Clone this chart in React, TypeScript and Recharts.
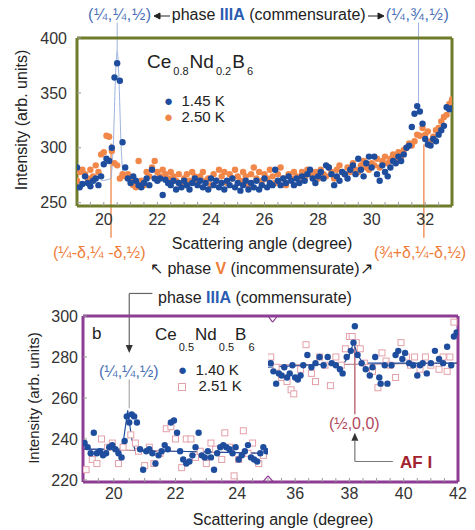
import { ComposedChart, Scatter, Line, XAxis, YAxis, ReferenceLine, ReferenceDot } from 'recharts'

const FONT = '"Liberation Sans", Arial, sans-serif'
const OLIVE = '#6e7c2b'
const PURPLE = '#8d3d93'
const BLUE = '#1f4d9e'
const ORANGE = '#f2874a'
const PINK = '#e4a0a8'
const FIT_BLUE = '#9db3de'
const LABEL_BLUE = '#4a70b6'
const LABEL_ORANGE = '#ee7d3a'
const LABEL_RED = '#b04a5c'
const TICK_TEXT = '#333'

// ---- panel a: Ce0.8Nd0.2B6 ----
const anglesA = [
  19.0, 19.1, 19.2, 19.3, 19.4, 19.5, 19.6, 19.7, 19.8, 19.9,
  20.0, 20.1, 20.2, 20.3, 20.4, 20.5, 20.6, 20.7, 20.8, 20.9,
  21.0, 21.1, 21.2, 21.3, 21.4, 21.5, 21.6, 21.7, 21.8, 21.9,
  22.0, 22.1, 22.2, 22.3, 22.4, 22.5, 22.6, 22.7, 22.8, 22.9,
  23.0, 23.1, 23.2, 23.3, 23.4, 23.5, 23.6, 23.7, 23.8, 23.9,
  24.0, 24.1, 24.2, 24.3, 24.4, 24.5, 24.6, 24.7, 24.8, 24.9,
  25.0, 25.1, 25.2, 25.3, 25.4, 25.5, 25.6, 25.7, 25.8, 25.9,
  26.0, 26.1, 26.2, 26.3, 26.4, 26.5, 26.6, 26.7, 26.8, 26.9,
  27.0, 27.1, 27.2, 27.3, 27.4, 27.5, 27.6, 27.7, 27.8, 27.9,
  28.0, 28.1, 28.2, 28.3, 28.4, 28.5, 28.6, 28.7, 28.8, 28.9,
  29.0, 29.1, 29.2, 29.3, 29.4, 29.5, 29.6, 29.7, 29.8, 29.9,
  30.0, 30.1, 30.2, 30.3, 30.4, 30.5, 30.6, 30.7, 30.8, 30.9,
  31.0, 31.1, 31.2, 31.3, 31.4, 31.5, 31.6, 31.7, 31.8, 31.9,
  32.0, 32.1, 32.2, 32.3, 32.4, 32.5, 32.6, 32.7, 32.8, 32.9,
  33.0,
]
const counts145K = [
  282, 264, 267, 274, 268, 265, 270, 272, 266, 274,
  285, 290, 288, 300, 364, 377, 361, 305, 282, 272,
  268, 274, 270, 266, 264, 268, 272, 266, 280, 272,
  270, 272, 257, 271, 268, 266, 270, 262, 268, 264,
  270, 266, 262, 268, 272, 266, 270, 264, 268, 262,
  272, 266, 270, 264, 268, 262, 270, 266, 272, 264,
  268, 261, 266, 270, 262, 268, 264, 270, 262, 266,
  272, 264, 268, 266, 280, 270, 266, 272, 268, 274,
  270, 266, 272, 268, 274, 270, 276, 280, 272, 268,
  274, 278, 272, 284, 282, 276, 266, 274, 270, 278,
  276, 272, 280, 284, 276, 290, 280, 274, 286, 292,
  282, 292, 276, 270, 284, 278, 274, 282, 288, 286,
  292, 288, 294, 300, 302, 319, 331, 338, 333, 322,
  308, 303, 302, 308, 306, 312, 316, 320, 337, 335,
  336,
]
const counts250K = [
  270, 278, 280, 276, 272, 280, 274, 284, 278, 294,
  296, 311, 310, 297, 286, 284, 272, 276, 274, 276,
  272, 266, 264, 288, 270, 266, 278, 274, 282, 288,
  278, 274, 280, 276, 272, 278, 274, 270, 276, 266,
  272, 276, 270, 278, 274, 268, 274, 278, 270, 272,
  266, 276, 270, 280, 274, 278, 268, 276, 272, 280,
  274, 270, 278, 274, 266, 276, 282, 272, 278, 270,
  276, 272, 280, 274, 268, 276, 282, 272, 266, 276,
  272, 278, 274, 270, 278, 272, 280, 276, 274, 278,
  272, 280, 276, 274, 282, 278, 272, 280, 284, 278,
  276, 282, 278, 286, 280, 278, 284, 288, 282, 280,
  286, 284, 290, 282, 288, 292, 286, 290, 294, 290,
  296, 292, 298, 300, 304, 302, 306, 312, 311, 318,
  312, 315, 306, 310, 316, 318, 324, 328, 330, 340,
  344,
]
// thin fit through the (1/4,1/4,1/2) peak
const fitAAngles = [19.9, 20.25, 20.35, 20.45, 20.5, 20.55, 20.65, 20.75, 21.1]
const fitACounts = [270, 272, 300, 372, 388, 372, 300, 272, 270]
const ticksAY = [250, 300, 350, 400]

// ---- panel b: Ce0.5Nd0.5B6 (broken axis) ----
const anglesB140Left = [
  19.05, 19.15, 19.25, 19.35, 19.45, 19.55, 19.65, 19.75, 19.85, 19.95,
  20.05, 20.15, 20.25, 20.35, 20.42, 20.5, 20.58, 20.66, 20.75, 20.85,
  20.95, 21.05, 21.15, 21.25, 21.35, 21.45, 21.55, 21.65, 21.75, 21.85,
  21.95, 22.05, 22.15, 22.25, 22.35, 22.45, 22.55, 22.65, 22.75, 22.85,
  22.95, 23.05, 23.15, 23.25, 23.35, 23.45, 23.55, 23.65, 23.75, 23.85,
  23.95, 24.05, 24.15, 24.25, 24.35, 24.45, 24.55, 24.65, 24.75, 24.85, 24.95,
]
const countsB140Left = [
  238, 236, 233, 243, 233, 234, 232, 233, 236, 237,
  235, 233, 231, 239, 251, 248, 252, 251, 248, 235,
  225, 234, 235, 233, 228, 232, 234, 237, 235, 248,
  249, 243, 234, 230, 228, 229, 232, 236, 243, 232,
  231, 234, 231, 225, 233, 236, 237, 236, 235, 233,
  236, 230, 232, 234, 237, 231, 230, 229, 233, 236, 234,
]
const anglesB251Left = [
  19.1, 19.3, 19.45, 19.6, 19.8, 19.95, 20.15, 20.3, 20.55, 20.7,
  20.8, 21.0, 21.15, 21.3, 21.5, 21.7, 21.85, 22.0, 22.2, 22.35,
  22.5, 22.65, 22.8, 23.0, 23.15, 23.3, 23.5, 23.6, 23.75, 23.9,
  24.05, 24.2, 24.35, 24.5, 24.7, 24.85,
]
const countsB251Left = [
  225, 230, 228, 240, 236, 238, 228, 236, 242, 238,
  234, 227, 236, 228, 233, 245, 246, 240, 226, 240,
  240, 231, 234, 228, 238, 235, 230, 243, 236, 222,
  230, 244, 233, 238, 228, 232,
]
const fitBLeftAngles = [19, 20.2, 20.32, 20.45, 20.58, 20.7, 22.0, 25]
const fitBLeftCounts = [235, 235, 240, 254, 240, 234, 234, 233]
const flatBLeftAngles = [19, 25]
const flatBLeftCounts = [235, 233]

const anglesB140Right = [
  35.1, 35.2, 35.3, 35.4, 35.5, 35.6, 35.7, 35.8, 35.9, 36.0,
  36.1, 36.2, 36.3, 36.45, 36.6, 36.75, 36.9, 37.05, 37.2, 37.35,
  37.5, 37.65, 37.75, 37.9, 38.05, 38.15, 38.2, 38.3, 38.45, 38.6,
  38.75, 38.85, 38.95, 39.1, 39.15, 39.3, 39.4, 39.55, 39.7, 39.8,
  39.95, 40.05, 40.2, 40.35, 40.5, 40.6, 40.7, 40.85, 41.0, 41.15,
  41.3, 41.45, 41.6, 41.75, 41.85, 41.95,
]
const countsB140Right = [
  277, 273, 267, 272, 271, 275, 270, 272, 276, 270,
  269, 271, 276, 281, 275, 277, 280, 276, 280, 277,
  276, 274, 272, 280, 283, 287, 295, 281, 277, 274,
  271, 275, 280, 270, 267, 276, 267, 276, 281, 283,
  279, 282, 277, 276, 271, 276, 277, 272, 277, 283,
  279, 277, 285, 276, 290, 292,
]
const anglesB251Right = [
  35.1, 35.3, 35.5, 35.7, 35.85, 35.95, 36.2, 36.4, 36.6, 36.75,
  36.9, 37.1, 37.3, 37.5, 37.7, 37.85, 38.0, 38.1, 38.25, 38.4,
  38.55, 38.7, 38.85, 39.05, 39.2, 39.35, 39.5, 39.7, 39.9, 40.1,
  40.25, 40.4, 40.6, 40.8, 41.0, 41.3, 41.45, 41.6, 41.7, 41.85,
]
const countsB251Right = [
  280, 275, 270, 268, 264, 262, 274, 286, 272, 268,
  280, 276, 266, 280, 276, 284, 290, 290, 287, 284,
  277, 275, 273, 265, 282, 278, 276, 270, 287, 280,
  276, 280, 274, 280, 276, 274, 280, 273, 280, 297,
]
const fitBRightAngles = [35, 37.8, 38.0, 38.15, 38.3, 38.5, 42]
const fitBRightCounts = [275, 277, 281, 287, 281, 277, 277]
const flatBRightAngles = [35, 42]
const flatBRightCounts = [276, 277]
const ticksBY = [220, 240, 260, 280, 300]

const pairs = (xs: number[], ys: number[]) => xs.map((x, i) => ({ x, y: ys[i] }))
const halfSteps = (a: number, b: number) => {
  const out: number[] = []
  for (let v = a; v <= b + 1e-9; v += 0.5) out.push(Math.round(v * 10) / 10)
  return out
}

const dot = (color: string, r: number) => (p: any) => <circle cx={p.cx} cy={p.cy} r={r} fill={color} />
const square = (color: string) => (p: any) => (
  <rect x={p.cx - 3} y={p.cy - 3} width={6} height={6} fill="#fff" stroke={color} strokeWidth={1} />
)
const arrowDown = (color: string) => (p: any) => (
  <path d={`M${p.cx - 3.5},${p.cy - 8} L${p.cx + 3.5},${p.cy - 8} L${p.cx},${p.cy} Z`} fill={color} />
)
const arrowUp = (color: string) => (p: any) => (
  <path d={`M${p.cx - 3.5},${p.cy + 8} L${p.cx + 3.5},${p.cy + 8} L${p.cx},${p.cy} Z`} fill={color} />
)

const tickStyle = { fontSize: 16, fill: TICK_TEXT, fontFamily: FONT }
const fmtEven = (v: number) => (Number.isInteger(v) && v % 2 === 0 ? String(v) : '')

function PanelA() {
  const frame = { stroke: OLIVE, strokeWidth: 3 }
  const minor = halfSteps(19, 33)
  return (
    <div style={{ position: 'absolute', left: 0, top: 0 }}>
      <ComposedChart width={475} height={240} margin={{ top: 37, right: 22, bottom: 4, left: 10 }}>
        <XAxis type="number" dataKey="x" domain={[19, 33]} ticks={minor} tickFormatter={fmtEven}
          allowDataOverflow height={30} tickSize={-4} tickMargin={12} tick={tickStyle}
          axisLine={frame} tickLine={{ stroke: '#999' }} interval={0} />
        <XAxis xAxisId="top" orientation="top" type="number" domain={[19, 33]} ticks={minor}
          height={1} tick={false} tickSize={-3} axisLine={frame} tickLine={{ stroke: '#999' }} interval={0} />
        <YAxis type="number" dataKey="y" domain={[247, 400]} ticks={ticksAY} allowDataOverflow width={67}
          tickSize={-4} tickMargin={14} tick={tickStyle} axisLine={frame} tickLine={{ stroke: '#999' }} interval={0} />
        <YAxis yAxisId="r" orientation="right" type="number" domain={[247, 400]} ticks={ticksAY} width={1}
          tick={false} tickSize={-4} axisLine={frame} tickLine={{ stroke: '#999' }} />

        <ReferenceLine segment={[{ x: 20.5, y: 414 }, { x: 20.5, y: 388 }]} ifOverflow="visible" stroke={FIT_BLUE} strokeWidth={1} />
        <ReferenceLine segment={[{ x: 31.75, y: 414 }, { x: 31.75, y: 338 }]} ifOverflow="visible" stroke={FIT_BLUE} strokeWidth={1} />
        <ReferenceLine segment={[{ x: 20.27, y: 304 }, { x: 20.27, y: 218 }]} ifOverflow="visible" stroke={LABEL_ORANGE} strokeWidth={1.2} />
        <ReferenceLine segment={[{ x: 31.95, y: 303 }, { x: 31.95, y: 218 }]} ifOverflow="visible" stroke={LABEL_ORANGE} strokeWidth={1.2} />

        <Line data={pairs(fitAAngles, fitACounts)} dataKey="y" type="monotone" stroke={FIT_BLUE} strokeWidth={1} dot={false} isAnimationActive={false} />
        <Scatter data={pairs(anglesA, counts250K)} shape={dot(ORANGE, 3.2)} isAnimationActive={false} />
        <Scatter data={pairs(anglesA, counts145K)} shape={dot(BLUE, 3.2)} isAnimationActive={false} />
      </ComposedChart>
    </div>
  )
}

function PanelBLeft() {
  const frame = { stroke: PURPLE, strokeWidth: 3 }
  const minor = halfSteps(19, 25)
  return (
    <div style={{ position: 'absolute', left: 0, top: 280 }}>
      <ComposedChart width={268} height={240} margin={{ top: 35, right: 0, bottom: 8, left: 10 }}>
        <XAxis type="number" dataKey="x" domain={[19, 25]} ticks={minor} tickFormatter={fmtEven}
          allowDataOverflow height={30} tickSize={-4} tickMargin={10} tick={tickStyle}
          axisLine={frame} tickLine={{ stroke: '#999' }} interval={0} />
        <XAxis xAxisId="top" orientation="top" type="number" domain={[19, 25]} ticks={minor}
          height={1} tick={false} tickSize={-3} axisLine={frame} tickLine={{ stroke: '#999' }} interval={0} />
        <YAxis type="number" dataKey="y" domain={[219, 300]} ticks={ticksBY} allowDataOverflow width={73}
          tickSize={-4} tickMargin={9} tick={tickStyle} axisLine={frame} tickLine={{ stroke: '#999' }} interval={0} />

        <ReferenceLine segment={[{ x: 20.5, y: 311 }, { x: 21.25, y: 311 }]} ifOverflow="visible" stroke="#666" strokeWidth={1.2} />
        <ReferenceLine segment={[{ x: 20.5, y: 311 }, { x: 20.5, y: 285 }]} ifOverflow="visible" stroke="#666" strokeWidth={1.2} />
        <ReferenceDot x={20.5} y={282} ifOverflow="visible" shape={arrowDown('#333')} />
        <ReferenceLine segment={[{ x: 20.5, y: 269 }, { x: 20.5, y: 255 }]} ifOverflow="visible" stroke="#aaa" strokeWidth={1.2} />
        <ReferenceLine segment={[{ x: 24.83, y: 219 }, { x: 25, y: 222 }]} ifOverflow="visible" stroke={PURPLE} strokeWidth={1.2} />

        <Line data={pairs(flatBLeftAngles, flatBLeftCounts)} dataKey="y" type="linear" stroke="#b07080" strokeWidth={1} dot={false} isAnimationActive={false} />
        <Scatter data={pairs(anglesB251Left, countsB251Left)} shape={square(PINK)} isAnimationActive={false} />
        <Scatter data={pairs(anglesB140Left, countsB140Left)} shape={dot(BLUE, 3.2)} isAnimationActive={false} />
        <Line data={pairs(fitBLeftAngles, fitBLeftCounts)} dataKey="y" type="linear" stroke={BLUE} strokeWidth={1.2} dot={false} isAnimationActive={false} />
      </ComposedChart>
    </div>
  )
}

function PanelBRight() {
  const frame = { stroke: PURPLE, strokeWidth: 3 }
  const minor = halfSteps(35, 42)
  return (
    <div style={{ position: 'absolute', left: 268, top: 280 }}>
      <ComposedChart width={207} height={240} margin={{ top: 35, right: 16, bottom: 8, left: 0 }}>
        <XAxis type="number" dataKey="x" domain={[35, 42]} ticks={minor} tickFormatter={fmtEven}
          allowDataOverflow height={30} tickSize={-4} tickMargin={10} tick={tickStyle}
          axisLine={frame} tickLine={{ stroke: '#999' }} interval={0} />
        <XAxis xAxisId="top" orientation="top" type="number" domain={[35, 42]} ticks={minor}
          height={1} tick={false} tickSize={-3} axisLine={frame} tickLine={{ stroke: '#999' }} interval={0} />
        <YAxis orientation="right" type="number" dataKey="y" domain={[219, 300]} ticks={ticksBY} allowDataOverflow width={1}
          tick={false} tickSize={-4} axisLine={frame} tickLine={{ stroke: '#999' }} />

        <ReferenceLine segment={[{ x: 35.0, y: 300 }, { x: 35.17, y: 297 }]} ifOverflow="visible" stroke={PURPLE} strokeWidth={1.2} />
        <ReferenceLine segment={[{ x: 35.17, y: 297 }, { x: 35.35, y: 300 }]} ifOverflow="visible" stroke={PURPLE} strokeWidth={1.2} />
        <ReferenceLine segment={[{ x: 35.0, y: 222 }, { x: 35.2, y: 219 }]} ifOverflow="visible" stroke={PURPLE} strokeWidth={1.2} />
        <ReferenceLine segment={[{ x: 38.2, y: 285 }, { x: 38.2, y: 252 }]} ifOverflow="visible" stroke={LABEL_RED} strokeWidth={1.2} />
        <ReferenceLine segment={[{ x: 38.2, y: 229 }, { x: 39.6, y: 229 }]} ifOverflow="visible" stroke="#777" strokeWidth={1.2} />
        <ReferenceLine segment={[{ x: 38.2, y: 229 }, { x: 38.2, y: 239 }]} ifOverflow="visible" stroke="#777" strokeWidth={1.2} />
        <ReferenceDot x={38.2} y={243} ifOverflow="visible" shape={arrowUp('#333')} />

        <Line data={pairs(flatBRightAngles, flatBRightCounts)} dataKey="y" type="linear" stroke="#b07080" strokeWidth={1} dot={false} isAnimationActive={false} />
        <Scatter data={pairs(anglesB251Right, countsB251Right)} shape={square(PINK)} isAnimationActive={false} />
        <Scatter data={pairs(anglesB140Right, countsB140Right)} shape={dot(BLUE, 3.2)} isAnimationActive={false} />
        <Line data={pairs(fitBRightAngles, fitBRightCounts)} dataKey="y" type="linear" stroke={BLUE} strokeWidth={1.2} dot={false} isAnimationActive={false} />
      </ComposedChart>
    </div>
  )
}

const abs = (left: number, top: number, extra: any = {}) => ({
  position: 'absolute' as const, left, top, whiteSpace: 'nowrap' as const, lineHeight: 1, fontFamily: FONT, ...extra,
})

// small horizontal arrow drawn inline with text
function HArrow({ dir, width = 18 }: { dir: 'left' | 'right'; width?: number }) {
  const h = 8
  const path = dir === 'left'
    ? `M0,${h / 2} L6,${h / 2 - 3} L6,${h / 2 + 3} Z M5,${h / 2} L${width},${h / 2}`
    : `M${width},${h / 2} L${width - 6},${h / 2 - 3} L${width - 6},${h / 2 + 3} Z M0,${h / 2} L${width - 5},${h / 2}`
  return (
    <svg width={width} height={h} style={{ verticalAlign: 'middle', margin: '0 2px' }}>
      <path d={path} stroke="#222" strokeWidth={1} fill="#222" />
    </svg>
  )
}

function Formula({ left, top, size, subSize, drop, parts }: any) {
  return (
    <div style={abs(left, top, { fontSize: size, color: '#222' })}>
      {parts.map(([el, sub]: string[]) => (
        <span key={el}>
          {el}
          <span style={{ fontSize: subSize, position: 'relative', top: drop, margin: '0 1px 0 2px' }}>{sub}</span>
        </span>
      ))}
    </div>
  )
}

const frac = { color: LABEL_BLUE, letterSpacing: 0.6 }

function Annotations() {
  return (
    <div style={{ position: 'absolute', left: 0, top: 0, width: 475, height: 530, pointerEvents: 'none', color: '#222' }}>
      {/* panel a */}
      <div style={abs(88, 7, { fontSize: 16 })}>
        <span style={frac}>(¼,¼,½)</span><HArrow dir="left" width={16} />phase{' '}
        <b style={{ color: '#2b5cb2' }}>IIIA</b> (commensurate)<HArrow dir="right" width={16} /><span style={frac}>(¼,¾,½)</span>
      </div>
      <div style={abs(22, 120, { fontSize: 16, transform: 'translate(-50%,-50%) rotate(-90deg)' })}>Intensity (arb. units)</div>
      <Formula left={147} top={52} size={19} subSize={11} drop={7} parts={[['Ce', '0.8'], ['Nd', '0.2'], ['B', '6']]} />
      <div style={abs(164, 93, { fontSize: 15 })}><span style={{ color: BLUE }}>●</span>&nbsp; 1.45 K</div>
      <div style={abs(164, 109, { fontSize: 15 })}><span style={{ color: ORANGE }}>●</span>&nbsp; 2.50 K</div>
      <div style={abs(262, 236, { fontSize: 16, transform: 'translateX(-50%)' })}>Scattering angle (degree)</div>
      <div style={abs(53, 245, { fontSize: 16, color: LABEL_ORANGE })}>(¼-δ,¼ -δ,½)</div>
      <div style={abs(374, 245, { fontSize: 16, color: LABEL_ORANGE })}>(¾+δ,¼-δ,½)</div>
      <div style={abs(150, 261, { fontSize: 16 })}>
        ↖ phase <b style={{ color: LABEL_ORANGE }}>V</b> (incommensurate)↗
      </div>

      {/* panel b */}
      <div style={abs(158, 290, { fontSize: 16 })}>
        phase <b style={{ color: '#2b5cb2' }}>IIIA</b> (commensurate)
      </div>
      <div style={abs(33, 398, { fontSize: 15, transform: 'translate(-50%,-50%) rotate(-90deg)' })}>Intensity (arb. units)</div>
      <div style={abs(92, 325, { fontSize: 17 })}>b</div>
      <Formula left={155} top={326} size={17} subSize={11} drop={11} parts={[['Ce', '0.5'], ['Nd', '0.5'], ['B', '6']]} />
      <div style={abs(178, 362, { fontSize: 15 })}><span style={{ color: BLUE }}>●</span>&nbsp; 1.40 K</div>
      <div style={abs(178, 378, { fontSize: 15 })}>
        <span style={{ display: 'inline-block', width: 6, height: 6, border: `1px solid ${PINK}` }} />&nbsp;&nbsp; 2.51 K
      </div>
      <div style={abs(99, 364, { fontSize: 16, color: LABEL_BLUE })}>(¼,¼,½)</div>
      <div style={abs(329, 416, { fontSize: 16, color: LABEL_RED })}>(½,0,0)</div>
      <div style={abs(400, 454, { fontSize: 17, color: '#a3222f', fontWeight: 700 })}>AF I</div>
      <div style={abs(283, 512, { fontSize: 16, transform: 'translateX(-50%)' })}>Scattering angle (degree)</div>
    </div>
  )
}

export default function App() {
  return (
    <div style={{ position: 'absolute', left: 0, top: 0, width: 475, height: 530, background: '#fff', fontFamily: FONT }}>
      <PanelA />
      <PanelBLeft />
      <PanelBRight />
      <Annotations />
    </div>
  )
}
